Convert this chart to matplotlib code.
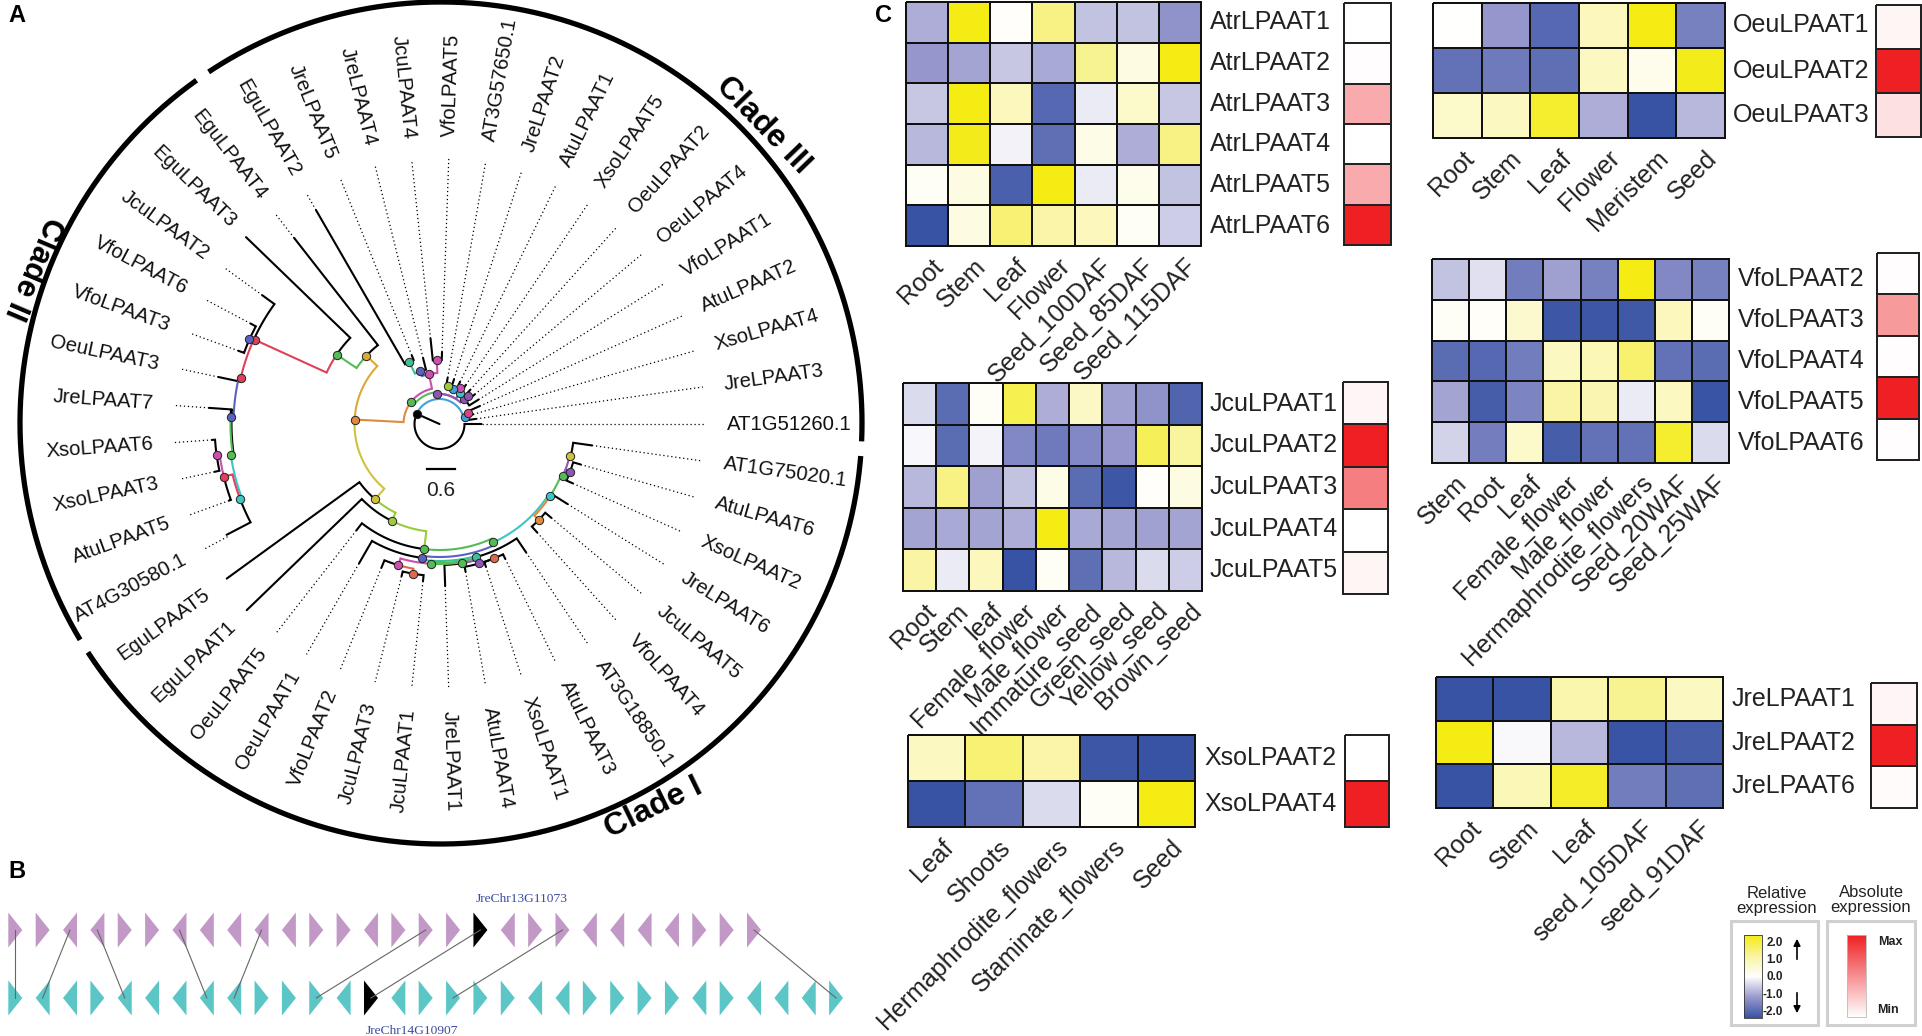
import numpy as np
import matplotlib
matplotlib.use("Agg")
import matplotlib.pyplot as plt
from matplotlib.colors import LinearSegmentedColormap, Normalize
from matplotlib.patches import Polygon, Rectangle

plt.rcParams['font.family'] = ['Liberation Sans', 'DejaVu Sans']

# panel A: tips run counter-clockwise, one every 8 degrees
tip_names = ["AT1G51260.1", "JreLPAAT3", "XsoLPAAT4", "AtuLPAAT2", "VfoLPAAT1", "OeuLPAAT4",
             "OeuLPAAT2", "XsoLPAAT5", "AtuLPAAT1", "JreLPAAT2", "AT3G57650.1", "VfoLPAAT5",
             "JcuLPAAT4", "JreLPAAT4", "JreLPAAT5", "EguLPAAT2", "EguLPAAT4", "EguLPAAT3",
             "JcuLPAAT2", "VfoLPAAT6", "VfoLPAAT3", "OeuLPAAT3", "JreLPAAT7", "XsoLPAAT6",
             "XsoLPAAT3", "AtuLPAAT5", "AT4G30580.1", "EguLPAAT5", "EguLPAAT1", "OeuLPAAT5",
             "OeuLPAAT1", "VfoLPAAT2", "JcuLPAAT3", "JcuLPAAT1", "JreLPAAT1", "AtuLPAAT4",
             "XsoLPAAT1", "AtuLPAAT3", "AT3G18850.1", "VfoLPAAT4", "JcuLPAAT5", "JreLPAAT6",
             "XsoLPAAT2", "AtuLPAAT6", "AT1G75020.1"]
tip_r = [42, 37, 35, 44, 46, 46, 46, 47, 47, 47, 47, 72, 86, 68, 74, 247, 236, 269, 219, 214, 214,
         226, 231, 228, 230, 224, 240, 263, 268, 135, 161, 155, 157, 158, 162, 150, 150, 150, 155,
         146, 146, 151, 146, 147, 154]

K = 'black'
SKY = '#3fa0dc'
ORANGE = '#e08a3c'
GOLD = '#d9a93a'
OLIVE = '#cfc23c'
LIME = '#9ccb3b'
GREEN = '#55bb55'
RED = '#e0405a'
VIOLET = '#5a62c0'
TEAL = '#3cc6c6'
MINT = '#3cc09a'
MAGENTA = '#cc4fb0'
PURPLE = '#8d55b5'
ROSE = '#e0407f'
VERMIL = '#e0684a'

# (angle from, angle to, radius of the arc, radius the radial part ends at, colour)
branches = [
    (156, 156, 0, 25, K), (156, 360, 25, 42, K), (156, 15, 25, 26, SKY),
    (15, 8, 26, 37, K), (15, 21, 26, 31, ROSE), (21, 16, 31, 35, K), (21, 24, 31, 44, K),
    (142, 177, 36, 85, ORANGE), (142, 94, 32, 30, GREEN), (142, 102, 36, 51, MAGENTA),
    (94, 46, 30, 35, PURPLE), (94, 57, 30, 37, PURPLE),
    (46, 32, 35, 46, K), (46, 44.6, 35, 40, PURPLE), (44.6, 40, 40, 46, K), (44.6, 48, 40, 46, K),
    (57, 68.6, 37, 38, SKY), (57, 60.7, 37, 41, MAGENTA), (60.7, 56, 41, 47, K), (60.7, 64, 41, 47, K),
    (68.6, 72, 38, 47, K), (68.6, 76.8, 38, 39.4, LIME), (76.8, 80, 39.4, 47, K),
    (101.4, 110, 51, 56, VIOLET), (101.4, 92.4, 51, 64, MAGENTA),
    (110, 104, 56, 68, K), (110, 116, 56, 69, MINT), (116, 112, 69, 74, K), (116, 120, 69, 247, K),
    (92.4, 96, 64, 86, K), (92.4, 88, 64, 72, K),
    (177, 137, 85, 100, GOLD), (137, 128, 100, 236, K), (137, 146, 100, 124, GREEN),
    (146, 136, 124, 269, K), (146, 155.5, 124, 203, RED),
    (155.5, 144, 204, 219, K), (155.5, 156, 204, 208, VIOLET), (156, 152, 208, 214, K), (156, 160, 208, 214, K),
    (155.5, 167, 204, 204, RED), (167, 168, 204, 226, K), (167, 178, 206, 209, VIOLET),
    (178, 176, 209, 231, K), (176, 188.4, 208, 208, K), (178, 188.4, 209, 211, GREEN),
    (188.4, 200.6, 211, 213, TEAL), (200.6, 207.5, 213, 240, K), (200.6, 193.7, 213, 222, RED),
    (193.7, 188, 222, 225, MAGENTA), (193.7, 200, 222, 224, K), (188, 184, 225, 228, K), (188, 192, 225, 230, K),
    (177, 229.5, 85, 99, OLIVE), (229.5, 216, 99, 263, K), (229.5, 243.7, 99, 108, LIME),
    (243.7, 224, 108, 268, K), (243.7, 263, 108, 126, LIME), (263, 232, 126, 135, K),
    (263, 294.5, 126, 130, GREEN), (294.5, 262.5, 133, 135, VIOLET), (262.5, 240, 135, 161, K),
    (262.5, 285.2, 137, 138, MINT), (285.2, 304, 138, 155, K), (285.2, 266.4, 139, 140, GREEN),
    (266.4, 253.8, 140, 147, MAGENTA), (253.8, 248, 147, 155, K), (253.8, 259.8, 147, 152, VERMIL),
    (259.8, 256, 152, 157, K), (259.8, 264, 152, 158, K),
    (266.4, 279, 140, 141, GREEN), (279, 272, 141, 162, K), (279, 285.9, 141, 145, PURPLE),
    (285.9, 280, 145, 150, K), (285.9, 292, 145, 145, K), (292, 288, 145, 150, K), (292, 296, 145, 150, K),
    (294.5, 326.7, 130, 132, TEAL), (326.7, 316, 132, 138, ORANGE), (316, 312, 138, 146, K), (316, 320, 138, 146, K),
    (326.7, 328, 132, 151, K), (326.7, 337.2, 132, 134, GREEN), (337.2, 340, 134, 139, PURPLE),
    (340, 336, 139, 146, K), (340, 344, 139, 147, K), (337.2, 346.2, 134, 134.5, PURPLE),
    (346.2, 352, 135, 154, K),
]

# (angle, radius, colour)
nodes = [
    (156, 25, K), (15, 26, SKY), (21, 31, ROSE), (142, 36, GREEN), (94, 30, PURPLE),
    (46, 35, PURPLE), (44.6, 40, PURPLE), (57, 37, TEAL), (60.7, 41, MAGENTA), (68.6, 38, SKY),
    (76.8, 39.4, LIME), (101.4, 51, MAGENTA), (110, 56, VIOLET), (116, 69, MINT), (92.4, 64, MAGENTA),
    (177, 85, ORANGE), (137, 100, GOLD), (146, 124, GREEN), (155.5, 203, RED), (156, 208, VIOLET),
    (167, 204, RED), (178, 209, VIOLET), (188.4, 211, GREEN), (200.6, 213, TEAL), (193.7, 222, RED),
    (188, 225, MAGENTA), (229.5, 99, OLIVE), (243.7, 108, LIME), (263, 126, GREEN), (294.5, 130, GREEN),
    (262.5, 135, VIOLET), (285.2, 138, MINT), (266.4, 140, GREEN), (253.8, 147, MAGENTA), (259.8, 152, VERMIL),
    (279, 141, GREEN), (285.9, 145, PURPLE), (292, 145, VERMIL), (326.7, 132, TEAL), (316, 138, ORANGE),
    (337.2, 134, GREEN), (340, 139, PURPLE), (346.2, 134.5, OLIVE),
]

# the ring only breaks at the clade borders
clade_ring = [(-2.5, 123.5), (125.5, 211), (213, 355.5)]

# panel B: gene directions, 1 points right and -1 points left
top_genes = [1, 1, -1, -1, 1, 1, -1, -1, -1, -1, -1, 1, 1, -1, 1, 1, 1, 1, -1, 1, 1, -1, -1, -1, -1, 1, 1, 1]
bottom_genes = [1, -1, -1, 1, -1, -1, -1, -1, -1, 1, 1, 1, -1, 1, -1, 1, 1, 1, 1, -1, -1, 1, 1, 1, 1, -1, 1, -1, -1, -1, 1]
gene_links = [(0, 0), (2, 1), (3, 4), (6, 7), (9, 8), (15, 11), (17, 13), (20, 16), (27, 30)]
top_black = 17
bottom_black = 13

# panel C: relative expression per tissue, absolute expression per gene
atr_tissues = ["Root", "Stem", "Leaf", "Flower", "Seed_100DAF", "Seed_85DAF", "Seed_115DAF"]
atr_genes = ["AtrLPAAT1", "AtrLPAAT2", "AtrLPAAT3", "AtrLPAAT4", "AtrLPAAT5", "AtrLPAAT6"]
atr_rel = [[-0.8, 2, 0.05, 1.2, -0.6, -0.6, -1.1],
           [-1.05, -0.9, -0.55, -0.85, 1.1, 0.3, 2],
           [-0.55, 2, 0.7, -1.7, -0.2, 0.55, -0.55],
           [-0.7, 1.95, -0.13, -1.6, 0.25, -0.8, 1.2],
           [0.1, 0.3, -1.8, 2, -0.2, 0.2, -0.6],
           [-2, 0.3, 1.3, 0.9, 0.7, 0.12, -0.5]]
atr_abs = [0, 0.01, 0.38, 0, 0.38, 1]

oeu_tissues = ["Root", "Stem", "Leaf", "Flower", "Meristem", "Seed"]
oeu_genes = ["OeuLPAAT1", "OeuLPAAT2", "OeuLPAAT3"]
oeu_rel = [[0, -1.05, -1.7, 0.7, 2, -1.35],
           [-1.55, -1.45, -1.6, 0.65, 0.2, 1.95],
           [0.55, 0.65, 1.8, -0.8, -2, -0.7]]
oeu_abs = [0.05, 1, 0.14]

jcu_tissues = ["Root", "Stem", "leaf", "Female_flower", "Male_flower", "Immature_seed", "Green_seed",
               "Yellow_seed", "Brown_seed"]
jcu_genes = ["JcuLPAAT1", "JcuLPAAT2", "JcuLPAAT3", "JcuLPAAT4", "JcuLPAAT5"]
jcu_rel = [[-0.35, -1.65, 0.08, 1.55, -0.8, 0.6, -0.95, -1.1, -1.75],
           [-0.07, -1.65, -0.12, -1.25, -1.45, -1.25, -1.05, 1.5, 1.0],
           [-0.7, 1.2, -0.95, -0.6, 0.25, -1.65, -1.95, 0.05, 0.3],
           [-0.9, -0.85, -0.9, -0.8, 2, -0.85, -0.9, -0.93, -0.9],
           [0.95, -0.2, 0.7, -2, 0.12, -1.6, -0.7, -0.35, -0.5]]
jcu_abs = [0.04, 1, 0.58, 0, 0.05]

vfo_tissues = ["Stem", "Root", "Leaf", "Female_flower", "Male_flower", "Hermaphrodite_flowers", "Seed_20WAF",
               "Seed_25WAF"]
vfo_genes = ["VfoLPAAT2", "VfoLPAAT3", "VfoLPAAT4", "VfoLPAAT5", "VfoLPAAT6"]
vfo_rel = [[-0.6, -0.3, -1.4, -0.95, -1.35, 2, -1.25, -1.35],
           [0.08, 0.07, 0.5, -1.95, -1.95, -1.92, 0.7, 0.1],
           [-1.65, -1.7, -1.4, 0.65, 0.75, 1.35, -1.55, -1.65],
           [-0.9, -1.85, -1.3, 0.95, 0.8, -0.2, 0.65, -1.97],
           [-0.45, -1.38, 0.55, -1.85, -1.55, -1.55, 1.8, -0.35]]
vfo_abs = [0.01, 0.45, 0.01, 1, 0.01]

xso_tissues = ["Leaf", "Shoots", "Hermaphrodite_flowers", "Staminate_flowers", "Seed"]
xso_genes = ["XsoLPAAT2", "XsoLPAAT4"]
xso_rel = [[0.65, 1.3, 0.9, -1.95, -2],
           [-2, -1.55, -0.35, 0.08, 2]]
xso_abs = [0, 1]

jre_tissues = ["Root", "Stem", "Leaf", "seed_105DAF", "seed_91DAF"]
jre_genes = ["JreLPAAT1", "JreLPAAT2", "JreLPAAT6"]
jre_rel = [[-2, -2, 0.85, 1.1, 0.65],
           [2, -0.05, -0.7, -1.97, -1.85],
           [-2, 0.75, 1.85, -1.4, -1.6]]
jre_abs = [0.04, 1, 0.02]

legend_ticks = ["2.0", "1.0", "0.0", "-1.0", "-2.0"]

rel_cmap = LinearSegmentedColormap.from_list(
    'rel', [(0, '#3853a4'), (0.25, '#9a9ace'), (0.5, '#ffffff'), (0.75, '#f9f4a0'), (1, '#f4ec13')])
abs_cmap = LinearSegmentedColormap.from_list('abs', ['#ffffff', '#ee2024'])

fig = plt.figure(figsize=(19.22, 10.36), dpi=100)
ax = fig.add_axes([0, 0, 1, 1])
ax.set_xlim(0, 1922)
ax.set_ylim(1036, 0)
ax.axis('off')

TREE_X, TREE_Y = 439.5, 424
RING_X, RING_Y, RING_R = 441, 423, 421


def polar(angle, r, x0=TREE_X, y0=TREE_Y):
    a = np.radians(angle)
    return x0 + r * np.cos(a), y0 - r * np.sin(a)


def draw_tree():
    for (a0, a1, r0, r1, col) in branches:
        t = np.linspace(a0, a1, 40)
        x, y = polar(t, r0)
        x2, y2 = polar(a1, r1)
        ax.plot(np.append(x, x2), np.append(y, y2), color=col, lw=1.5, solid_capstyle='round',
                solid_joinstyle='miter', zorder=3 if col != K else 2)
    for i, name in enumerate(tip_names):
        angle = i * 8
        if tip_r[i] < 262:
            x, y = polar(angle, np.array([tip_r[i], 266]))
            ax.plot(x, y, color='black', lw=0.9, ls=(0, (1, 2.2)), zorder=1)
        x, y = polar(angle, 287)
        left = 90 < angle < 270
        ax.text(x, y, name, fontsize=14.6, color='#111111', rotation=angle + 180 if left else angle,
                rotation_mode='anchor', ha='right' if left else 'left', va='center')
    for (a, r, col) in nodes:
        x, y = polar(a, r)
        ax.scatter(x, y, s=36, color=col, edgecolors='#222222', linewidths=0.7, zorder=4)
    for (a0, a1) in clade_ring:
        x, y = polar(np.linspace(a0, a1, 300), RING_R, RING_X, RING_Y)
        ax.plot(x, y, color='black', lw=3.8, solid_capstyle='butt')
    ax.plot([427, 454.5], [469, 469], color='black', lw=1.6)
    ax.text(441, 491, "0.6", fontsize=15, ha='center', va='center', color='#222222')
    ax.text(763, 125, "Clade III", fontsize=23, fontweight='bold', rotation=-46, ha='center', va='center')
    ax.text(33, 268, "Clade II", fontsize=22, fontweight='bold', rotation=247, ha='center', va='center')
    ax.text(654, 808, "Clade I", fontsize=23, fontweight='bold', rotation=26, ha='center', va='center')


def gene_x(i):
    return 8.3 + 27.36 * i


def draw_genes(dirs, yc, col, black):
    for i, d in enumerate(dirs):
        x0 = gene_x(i)
        base, point = (x0, x0 + 14) if d > 0 else (x0 + 14, x0)
        pts = [(base, yc - 17.5), (point, yc), (base, yc + 17.5)]
        ax.add_patch(Polygon(pts, closed=True, facecolor='black' if i == black else col, edgecolor='none'))


def draw_panel_b():
    draw_genes(top_genes, 930, '#c299c6', top_black)
    draw_genes(bottom_genes, 998, '#5cc6c6', bottom_black)
    for (t, b) in gene_links:
        ax.plot([gene_x(t) + 7, gene_x(b) + 7], [930, 998], color='#666666', lw=0.8)
    ax.text(522, 899, "JreChr13G11073", family='Liberation Serif', fontsize=9.7, color='#3a4ba0',
            ha='center', va='center')
    ax.text(412, 1031, "JreChr14G10907", family='Liberation Serif', fontsize=9.7, color='#3a4ba0',
            ha='center', va='center')


def draw_heatmap(rel, absv, tissues, genes, box, abs_box, label_x):
    x0, x1, y0, y1 = box
    rel = np.array(rel)
    n_rows, n_cols = rel.shape
    xs = np.linspace(x0, x1, n_cols + 1)
    ys = np.linspace(y0, y1, n_rows + 1)
    ax.pcolormesh(xs, ys, rel, cmap=rel_cmap, norm=Normalize(-2, 2), edgecolors='#111111', linewidth=1.1)
    ax0, ax1, ay0, ay1 = abs_box
    ays = np.linspace(ay0, ay1, n_rows + 1)
    ax.pcolormesh([ax0, ax1], ays, np.array(absv).reshape(-1, 1), cmap=abs_cmap, norm=Normalize(0, 1),
                  edgecolors='#222222', linewidth=1.1)
    for i, g in enumerate(genes):
        ax.text(label_x, (ys[i] + ys[i + 1]) / 2, g, fontsize=18, color='#222222', ha='left', va='center')
    for j, t in enumerate(tissues):
        xc = (xs[j] + xs[j + 1]) / 2
        ax.text(xc + 4, y1 + 8, t, fontsize=18, color='#222222', rotation=45, rotation_mode='anchor',
                ha='right', va='top')


def draw_legend():
    for (x0, x1) in [(1731, 1818), (1827, 1915)]:
        ax.add_patch(Rectangle((x0, 921), x1 - x0, 104, facecolor='white', edgecolor='#d0d0d0', lw=2.2))
    grad = np.linspace(2, -2, 200).reshape(-1, 1)
    ax.imshow(grad, cmap=rel_cmap, norm=Normalize(-2, 2), extent=(1744, 1762, 1018, 935), aspect='auto', zorder=2)
    ax.add_patch(Rectangle((1744, 935), 18, 83, fill=False, edgecolor='#333333', lw=0.6, zorder=3))
    grad2 = np.linspace(1, 0, 200).reshape(-1, 1)
    ax.imshow(grad2, cmap=abs_cmap, norm=Normalize(0, 1), extent=(1847, 1866, 1017, 935), aspect='auto', zorder=2)
    ax.add_patch(Rectangle((1847, 935), 19, 82, fill=False, edgecolor='#bbbbbb', lw=0.6, zorder=3))
    ax.set_xlim(0, 1922)
    ax.set_ylim(1036, 0)
    for lab, y in zip(legend_ticks, np.linspace(943, 1012, 5)):
        ax.text(1783, y, lab, fontsize=8.5, fontweight='bold', color='#222222', ha='right', va='center', zorder=5)
    ax.annotate('', xy=(1797, 936), xytext=(1797, 962), arrowprops=dict(arrowstyle='-|>', color='black', lw=1.2))
    ax.annotate('', xy=(1797, 1016), xytext=(1797, 990), arrowprops=dict(arrowstyle='-|>', color='black', lw=1.2))
    ax.text(1890, 942, "Max", fontsize=9, fontweight='bold', ha='center', va='center', color='#222222')
    ax.text(1888, 1010, "Min", fontsize=9, fontweight='bold', ha='center', va='center', color='#222222')
    ax.text(1777, 901, "Relative\nexpression", fontsize=12, ha='center', va='center', linespacing=1.05, color='#222222')
    ax.text(1871, 900, "Absolute\nexpression", fontsize=12, ha='center', va='center', linespacing=1.05, color='#222222')


draw_tree()
draw_panel_b()
draw_heatmap(atr_rel, atr_abs, atr_tissues, atr_genes, (906, 1201, 2, 246), (1344, 1391, 3, 245), 1210)
draw_heatmap(oeu_rel, oeu_abs, oeu_tissues, oeu_genes, (1433, 1725, 3, 138), (1876, 1921, 5, 137), 1733)
draw_heatmap(jcu_rel, jcu_abs, jcu_tissues, jcu_genes, (903, 1202, 383, 591), (1343, 1388, 382, 594), 1210)
draw_heatmap(vfo_rel, vfo_abs, vfo_tissues, vfo_genes, (1432, 1729, 259, 463), (1877, 1919, 253, 460), 1738)
draw_heatmap(xso_rel, xso_abs, xso_tissues, xso_genes, (908, 1195, 735, 827), (1345, 1389, 735, 827), 1204)
draw_heatmap(jre_rel, jre_abs, jre_tissues, jre_genes, (1436, 1723, 677, 808), (1871, 1917, 683, 808), 1732)
draw_legend()

ax.text(17, 16, "A", fontsize=17, fontweight='bold', ha='center', va='center')
ax.text(17, 871, "B", fontsize=17, fontweight='bold', ha='center', va='center')
ax.text(884, 15, "C", fontsize=17, fontweight='bold', ha='center', va='center')

fig.savefig("out.png", dpi=100)
